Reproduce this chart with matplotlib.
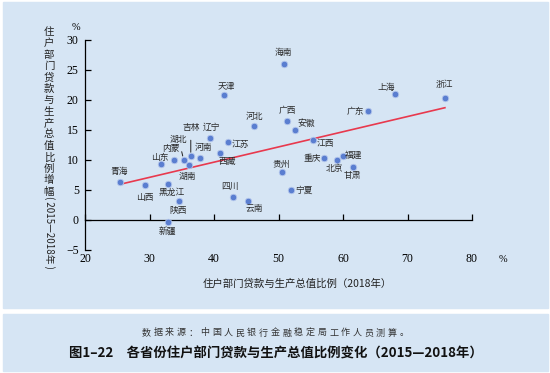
import numpy as np
import matplotlib
matplotlib.use('Agg')
from matplotlib import pyplot as plt
from matplotlib.patches import Rectangle

# 各省份数据：2018年住户部门贷款/GDP（%），2015—2018年增幅（百分点）
provinces = ['海南', '天津', '上海', '浙江', '广东', '广西', '河北', '安徽',
             '江西', '江苏', '辽宁', '吉林', '湖北', '河南', '内蒙', '山东',
             '湖南', '西藏', '青海', '山西', '黑龙江', '陕西', '新疆', '四川',
             '云南', '贵州', '宁夏', '重庆', '北京', '福建', '甘肃']
ratio_2018 = [50.8, 41.6, 68.0, 75.8, 63.9, 51.3, 46.2, 52.5,
              55.4, 42.1, 39.4, 36.4, 35.3, 37.9, 33.8, 31.8,
              36.1, 40.9, 25.4, 29.3, 32.9, 34.5, 32.8, 43.0,
              45.3, 50.5, 51.9, 57.1, 59.0, 60.0, 61.5]
ratio_change = [26.0, 20.9, 21.0, 20.3, 18.1, 16.5, 15.7, 15.0,
                13.4, 13.0, 13.6, 10.6, 10.0, 10.3, 10.0, 9.3,
                9.1, 11.2, 6.4, 5.9, 6.0, 3.2, -0.3, 3.9,
                3.2, 8.0, 5.0, 10.3, 10.0, 10.7, 8.8]
x_ticks = [20, 30, 40, 50, 60, 70, 80]
y_ticks = [-5, 0, 5, 10, 15, 20, 25, 30]

# 标签相对数据点的偏移（像素）
label_offsets = {
    '海南': (0, 12), '天津': (2, 8), '上海': (-8, 7), '浙江': (-1, 14),
    '广东': (-13, 0), '广西': (0, 10), '河北': (0, 9), '安徽': (11, 7),
    '江西': (12, -4), '江苏': (13, -2), '辽宁': (1, 11), '吉林': (0, 29),
    '湖北': (-5, 21), '河南': (3, 11), '内蒙': (-3, 11), '山东': (-1, 7),
    '湖南': (-1, -11), '西藏': (7, -9), '青海': (-1, 10), '山西': (0, -13),
    '黑龙江': (3, -8), '陕西': (0, -10), '新疆': (0, -10), '四川': (-3, 10),
    '云南': (6, -8), '贵州': (0, 8), '宁夏': (13, 0), '重庆': (-12, -1),
    '北京': (-2, -9), '福建': (11, 1), '甘肃': (0, -8),
}
leader_lines = ['吉林', '湖北']

cjk = ['Noto Sans CJK SC', 'DejaVu Sans']
serif = ['Liberation Serif', 'DejaVu Serif']
bg = '#d6e5f4'

W, H = 550, 373
fig = plt.figure(figsize=(W / 100, H / 100), dpi=100)
fig.patch.set_facecolor('white')

# 上下两块浅蓝底板
fig.patches.append(Rectangle((3 / W, 1 - 308 / H), 545 / W, 306 / H,
                             transform=fig.transFigure, color=bg, zorder=-10))
fig.patches.append(Rectangle((3 / W, 1 - 371 / H), 545 / W, 57 / H,
                             transform=fig.transFigure, color=bg, zorder=-10))

ax = fig.add_axes([85 / W, 1 - 250 / H, 387 / W, 210 / H])
ax.set_zorder(2)
ax.set_facecolor('none')
ax.set_xlim(20, 80)
ax.set_ylim(-5, 30)
for s in ['top', 'right']:
    ax.spines[s].set_visible(False)
ax.spines['bottom'].set_position(('data', 0))
ax.spines['bottom'].set_linewidth(0.9)
ax.spines['left'].set_linewidth(0.9)
ax.set_xticks(x_ticks)
ax.set_yticks(y_ticks)
ax.tick_params(axis='both', direction='in', length=4, width=0.9, labelsize=8.5)
ax.tick_params(axis='x', pad=23.5)
ax.tick_params(axis='y', pad=4.5)
ax.set_yticklabels(['\u22125' if t < 0 else str(t) for t in y_ticks])
for lab in ax.get_xticklabels() + ax.get_yticklabels():
    lab.set_family(serif)

# 趋势线
x = np.array(ratio_2018)
y = np.array(ratio_change)
k, b = np.polyfit(x, y, 1)
xs = np.array([x.min(), x.max()])
ax.plot(xs, k * xs + b, color='#e8394e', lw=1.2, zorder=2)

ax.scatter(x, y, s=22, facecolor='#5a7ed0', edgecolor='#b3c6ec',
           linewidth=0.6, zorder=3)

for name, px, py in zip(provinces, ratio_2018, ratio_change):
    dx, dy = label_offsets[name]
    arrow = None
    if name in leader_lines:
        arrow = dict(arrowstyle='-', lw=0.7, color='#222222',
                     shrinkA=4, shrinkB=3)
    ax.annotate(name, (px, py), xytext=(dx, dy), textcoords='offset pixels',
                ha='center', va='center', fontsize=6.3, family=cjk,
                color='#2a2a2a', arrowprops=arrow, zorder=4)

# 坐标轴单位与标题
fig.text(76 / W, 1 - 28 / H, '%', fontsize=7.5, family=serif,
         ha='center', va='center')
fig.text(503 / W, 1 - 259 / H, '%', fontsize=7.5, family=serif,
         ha='center', va='center')
fig.text(297 / W, 1 - 284 / H, '住户部门贷款与生产总值比例（2018年）',
         fontsize=7.5, family=cjk, ha='center', va='center', color='#222222')

ylabel_chars = '住户部门贷款与生产总值比例增幅'
step = (191.5 - 31.7) / (len(ylabel_chars) - 1)
for i, ch in enumerate(ylabel_chars):
    fig.text(49 / W, 1 - (31.7 + i * step) / H, ch, fontsize=7.5,
             family=cjk, ha='center', va='center', color='#222222')
fig.text(49 / W, 1 - 232 / H, '( 2015—2018年 )', fontsize=7, family=cjk,
         rotation=-90, ha='center', va='center', color='#222222')

source = '数据来源：中国人民银行金融稳定局工作人员测算。'
cstep = 11.7
x0 = 275 - cstep * (len(source) - 1) / 2
for i, ch in enumerate(source):
    fig.text((x0 + i * cstep) / W, 1 - 333 / H, ch, fontsize=6.5,
             family=cjk, ha='center', va='center', color='#333333')

fig.text(276 / W, 1 - 354 / H,
         '图1–22　各省份住户部门贷款与生产总值比例变化（2015—2018年）',
         fontsize=9.6, family=cjk, fontweight='bold', ha='center',
         va='center', color='#111111')

fig.savefig('out.png', dpi=100)
